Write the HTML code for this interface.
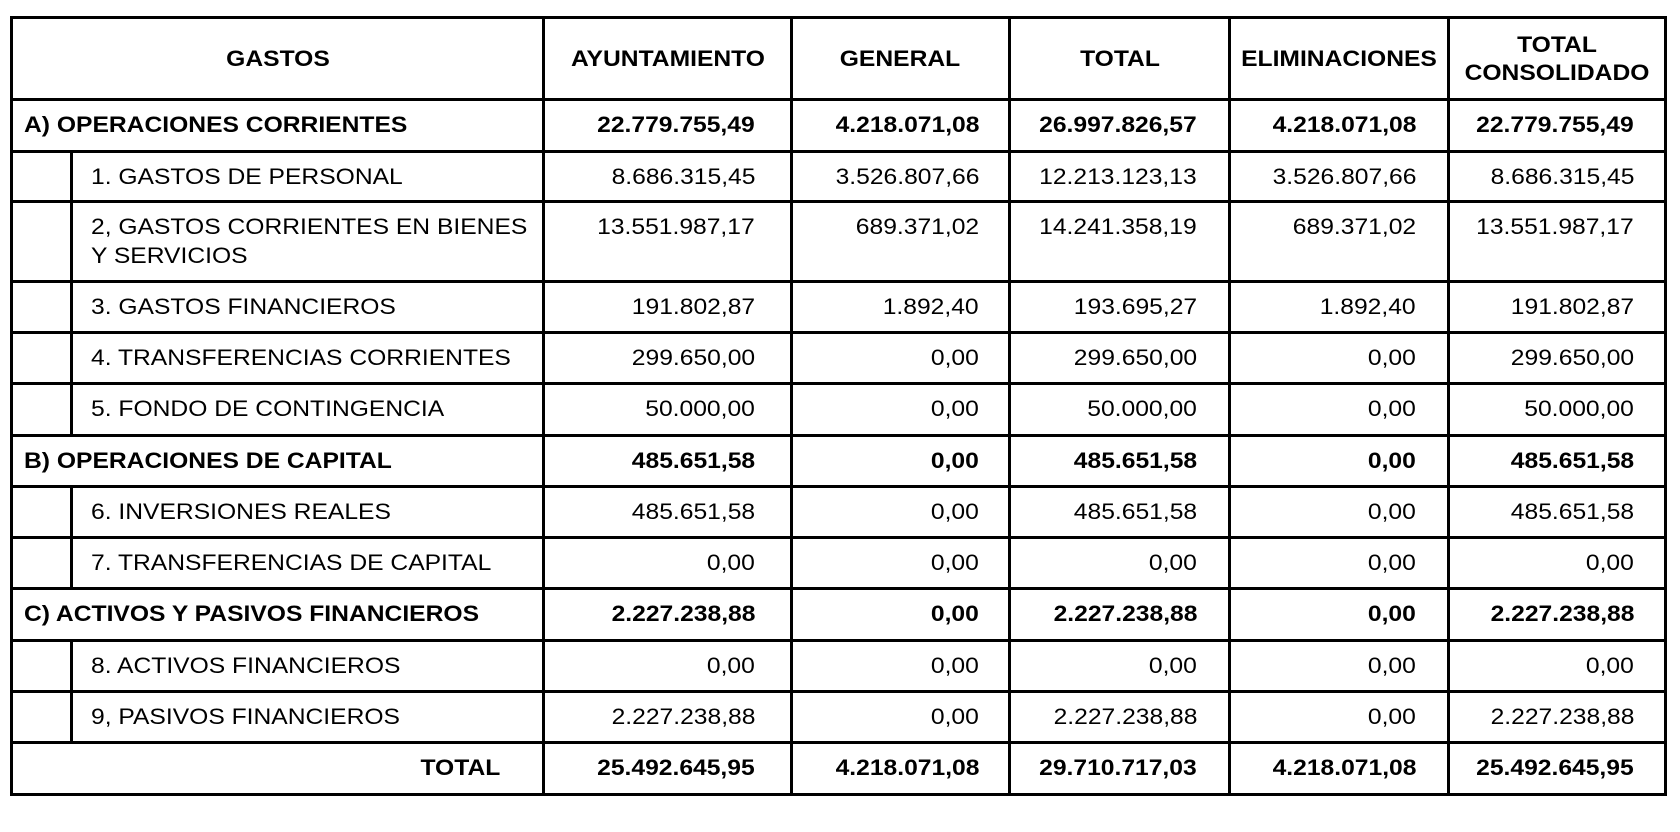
<!DOCTYPE html>
<html>
<head>
<meta charset="utf-8">
<style>
  html, body { margin:0; padding:0; background:#fff; }
  body { width:1680px; height:832px; position:relative; overflow:hidden; }
  .h { position:absolute; background:#000; height:3px; }
  .v { position:absolute; background:#000; width:3px; }
  .row { position:absolute; left:0; width:1680px; height:30px; }
  .t { position:absolute; top:0; font-family:"Liberation Sans", Arial, sans-serif; font-size:22px; line-height:29px; white-space:nowrap; color:#000; }
  .b { font-weight:bold; }
  .r { transform:scaleX(1.12); transform-origin:right center; text-align:right; }
  .l { transform:scaleX(1.12); transform-origin:left center; text-align:left; }
  .c { transform:scaleX(1.12); transform-origin:center center; text-align:center; width:400px; }
  .n1 { right:925px; } .n2 { right:701px; } .n3 { right:483px; } .n4 { right:264px; } .n5 { right:46px; }
</style>
</head>
<body>
<!-- horizontal lines -->
<div class="h" style="left:10px;width:1657px;top:16px"></div>
<div class="h" style="left:10px;width:1657px;top:98px"></div>
<div class="h" style="left:10px;width:1657px;top:150px"></div>
<div class="h" style="left:10px;width:1657px;top:200px"></div>
<div class="h" style="left:10px;width:1657px;top:280px"></div>
<div class="h" style="left:10px;width:1657px;top:331px"></div>
<div class="h" style="left:10px;width:1657px;top:382px"></div>
<div class="h" style="left:10px;width:1657px;top:434px"></div>
<div class="h" style="left:10px;width:1657px;top:485px"></div>
<div class="h" style="left:10px;width:1657px;top:536px"></div>
<div class="h" style="left:10px;width:1657px;top:587px"></div>
<div class="h" style="left:10px;width:1657px;top:639px"></div>
<div class="h" style="left:10px;width:1657px;top:690px"></div>
<div class="h" style="left:10px;width:1657px;top:741px"></div>
<div class="h" style="left:10px;width:1657px;top:793px"></div>
<!-- vertical lines -->
<div class="v" style="left:10px;top:16px;height:780px"></div>
<div class="v" style="left:542px;top:16px;height:780px"></div>
<div class="v" style="left:790px;top:16px;height:780px"></div>
<div class="v" style="left:1008px;top:16px;height:780px"></div>
<div class="v" style="left:1228px;top:16px;height:780px"></div>
<div class="v" style="left:1447px;top:16px;height:780px"></div>
<div class="v" style="left:1664px;top:16px;height:780px"></div>
<!-- inner sub-column lines -->
<div class="v" style="left:70px;top:150px;height:287px"></div>
<div class="v" style="left:70px;top:485px;height:105px"></div>
<div class="v" style="left:70px;top:639px;height:105px"></div>

<!-- header -->
<div class="t b c" style="top:44.3px;left:77.5px">GASTOS</div>
<div class="t b c" style="top:44.3px;left:467.5px">AYUNTAMIENTO</div>
<div class="t b c" style="top:44.3px;left:700px">GENERAL</div>
<div class="t b c" style="top:44.3px;left:919.5px">TOTAL</div>
<div class="t b c" style="top:44.3px;left:1139px">ELIMINACIONES</div>
<div class="t b c" style="top:30.6px;left:1357px;line-height:28.5px">TOTAL<br>CONSOLIDADO</div>

<!-- A -->
<div class="row" style="top:109.9px">
  <div class="t b l" style="left:24px">A) OPERACIONES CORRIENTES</div>
  <div class="t b r n1">22.779.755,49</div>
  <div class="t b r n2">4.218.071,08</div>
  <div class="t b r n3">26.997.826,57</div>
  <div class="t b r n4">4.218.071,08</div>
  <div class="t b r n5">22.779.755,49</div>
</div>
<!-- 1 -->
<div class="row" style="top:161.9px">
  <div class="t l" style="left:91px">1. GASTOS DE PERSONAL</div>
  <div class="t r n1">8.686.315,45</div>
  <div class="t r n2">3.526.807,66</div>
  <div class="t r n3">12.213.123,13</div>
  <div class="t r n4">3.526.807,66</div>
  <div class="t r n5">8.686.315,45</div>
</div>
<!-- 2 -->
<div class="t l" style="left:91px;top:211.6px;line-height:29.5px">2, GASTOS CORRIENTES EN BIENES<br>Y SERVICIOS</div>
<div class="row" style="top:211.9px">
  <div class="t r n1">13.551.987,17</div>
  <div class="t r n2">689.371,02</div>
  <div class="t r n3">14.241.358,19</div>
  <div class="t r n4">689.371,02</div>
  <div class="t r n5">13.551.987,17</div>
</div>
<!-- 3 -->
<div class="row" style="top:291.9px">
  <div class="t l" style="left:91px">3. GASTOS FINANCIEROS</div>
  <div class="t r n1">191.802,87</div>
  <div class="t r n2">1.892,40</div>
  <div class="t r n3">193.695,27</div>
  <div class="t r n4">1.892,40</div>
  <div class="t r n5">191.802,87</div>
</div>
<!-- 4 -->
<div class="row" style="top:342.9px">
  <div class="t l" style="left:91px">4. TRANSFERENCIAS CORRIENTES</div>
  <div class="t r n1">299.650,00</div>
  <div class="t r n2">0,00</div>
  <div class="t r n3">299.650,00</div>
  <div class="t r n4">0,00</div>
  <div class="t r n5">299.650,00</div>
</div>
<!-- 5 -->
<div class="row" style="top:393.9px">
  <div class="t l" style="left:91px">5. FONDO DE CONTINGENCIA</div>
  <div class="t r n1">50.000,00</div>
  <div class="t r n2">0,00</div>
  <div class="t r n3">50.000,00</div>
  <div class="t r n4">0,00</div>
  <div class="t r n5">50.000,00</div>
</div>
<!-- B -->
<div class="row" style="top:445.9px">
  <div class="t b l" style="left:24px">B) OPERACIONES DE CAPITAL</div>
  <div class="t b r n1">485.651,58</div>
  <div class="t b r n2">0,00</div>
  <div class="t b r n3">485.651,58</div>
  <div class="t b r n4">0,00</div>
  <div class="t b r n5">485.651,58</div>
</div>
<!-- 6 -->
<div class="row" style="top:496.9px">
  <div class="t l" style="left:91px">6. INVERSIONES REALES</div>
  <div class="t r n1">485.651,58</div>
  <div class="t r n2">0,00</div>
  <div class="t r n3">485.651,58</div>
  <div class="t r n4">0,00</div>
  <div class="t r n5">485.651,58</div>
</div>
<!-- 7 -->
<div class="row" style="top:547.9px">
  <div class="t l" style="left:91px">7. TRANSFERENCIAS DE CAPITAL</div>
  <div class="t r n1">0,00</div>
  <div class="t r n2">0,00</div>
  <div class="t r n3">0,00</div>
  <div class="t r n4">0,00</div>
  <div class="t r n5">0,00</div>
</div>
<!-- C -->
<div class="row" style="top:598.9px">
  <div class="t b l" style="left:24px">C) ACTIVOS Y PASIVOS FINANCIEROS</div>
  <div class="t b r n1">2.227.238,88</div>
  <div class="t b r n2">0,00</div>
  <div class="t b r n3">2.227.238,88</div>
  <div class="t b r n4">0,00</div>
  <div class="t b r n5">2.227.238,88</div>
</div>
<!-- 8 -->
<div class="row" style="top:650.9px">
  <div class="t l" style="left:91px">8. ACTIVOS FINANCIEROS</div>
  <div class="t r n1">0,00</div>
  <div class="t r n2">0,00</div>
  <div class="t r n3">0,00</div>
  <div class="t r n4">0,00</div>
  <div class="t r n5">0,00</div>
</div>
<!-- 9 -->
<div class="row" style="top:701.9px">
  <div class="t l" style="left:91px">9, PASIVOS FINANCIEROS</div>
  <div class="t r n1">2.227.238,88</div>
  <div class="t r n2">0,00</div>
  <div class="t r n3">2.227.238,88</div>
  <div class="t r n4">0,00</div>
  <div class="t r n5">2.227.238,88</div>
</div>
<!-- TOTAL -->
<div class="row" style="top:752.9px">
  <div class="t b r" style="right:1180px">TOTAL</div>
  <div class="t b r n1">25.492.645,95</div>
  <div class="t b r n2">4.218.071,08</div>
  <div class="t b r n3">29.710.717,03</div>
  <div class="t b r n4">4.218.071,08</div>
  <div class="t b r n5">25.492.645,95</div>
</div>
</body>
</html>
